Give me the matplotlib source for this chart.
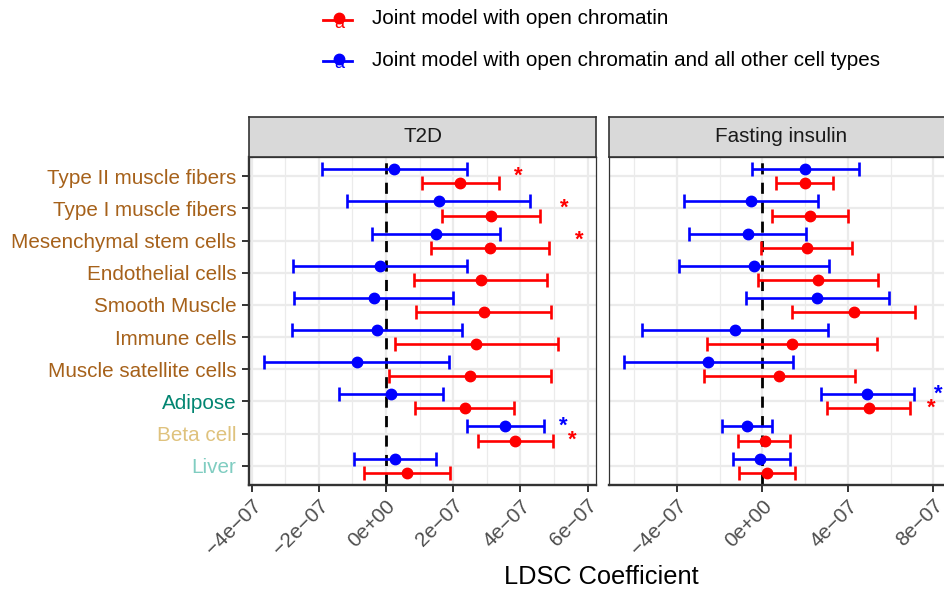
import matplotlib.pyplot as plt
import numpy as np

plt.rcParams['font.family'] = ['Liberation Sans', 'DejaVu Sans']

# rows from bottom to top
cell_types = ['Liver', 'Beta cell', 'Adipose', 'Muscle satellite cells', 'Immune cells',
              'Smooth Muscle', 'Endothelial cells', 'Mesenchymal stem cells',
              'Type I muscle fibers', 'Type II muscle fibers']
label_colors = ['#80CDC1', '#DFC27D', '#018571'] + ['#A6611A'] * 7

traits = ['T2D', 'Fasting insulin']
models = ['Joint model with open chromatin',
          'Joint model with open chromatin and all other cell types']
model_colors = ['#FF0000', '#0000FF']

scale = 1e-7  # values below are in units of 1e-07

# T2D, joint model (red)
t2d_red_est = [0.63, 3.85, 2.36, 2.49, 2.69, 2.91, 2.82, 3.08, 3.13, 2.21]
t2d_red_lo = [-0.65, 2.75, 0.87, 0.08, 0.27, 0.89, 0.84, 1.33, 1.68, 1.06]
t2d_red_hi = [1.89, 4.98, 3.81, 4.91, 5.11, 4.91, 4.80, 4.84, 4.57, 3.35]
# T2D, joint model + other cell types (blue)
t2d_blue_est = [0.27, 3.55, 0.16, -0.87, -0.28, -0.37, -0.19, 1.50, 1.57, 0.23]
t2d_blue_lo = [-0.94, 2.40, -1.41, -3.62, -2.81, -2.73, -2.78, -0.41, -1.16, -1.90]
t2d_blue_hi = [1.50, 4.70, 1.70, 1.88, 2.27, 1.98, 2.40, 3.38, 4.30, 2.40]
# Fasting insulin, red
fi_red_est = [0.22, 0.12, 4.97, 0.79, 1.37, 4.27, 2.60, 2.07, 2.21, 1.98]
fi_red_lo = [-1.07, -1.14, 3.02, -2.72, -2.57, 1.39, -0.20, -0.06, 0.47, 0.63]
fi_red_hi = [1.54, 1.29, 6.90, 4.32, 5.35, 7.12, 5.39, 4.19, 3.99, 3.32]
# Fasting insulin, blue
fi_blue_est = [-0.09, -0.71, 4.89, -2.54, -1.29, 2.57, -0.39, -0.68, -0.53, 2.01]
fi_blue_lo = [-1.36, -1.87, 2.73, -6.48, -5.64, -0.78, -3.89, -3.41, -3.64, -0.50]
fi_blue_hi = [1.29, 0.47, 7.07, 1.43, 3.08, 5.93, 3.13, 2.06, 2.59, 4.50]

# significance stars: trait, cell type, model index, x position
star_trait = ['T2D', 'T2D', 'T2D', 'T2D', 'T2D', 'Fasting insulin', 'Fasting insulin']
star_cell = ['Type II muscle fibers', 'Type I muscle fibers', 'Mesenchymal stem cells',
             'Beta cell', 'Beta cell', 'Adipose', 'Adipose']
star_model = [0, 0, 0, 1, 0, 1, 0]
star_x = [3.95, 5.32, 5.75, 5.29, 5.55, 8.22, 7.91]

xticks = {'T2D': [-4, -2, 0, 2, 4, 6], 'Fasting insulin': [-4, 0, 4, 8]}
xminor = {'T2D': [-3, -1, 1, 3, 5], 'Fasting insulin': [-6, -2, 2, 6]}
xlims = {'T2D': (-4.08, 6.25), 'Fasting insulin': (-7.18, 8.96)}

data = {
    'T2D': [(t2d_red_est, t2d_red_lo, t2d_red_hi), (t2d_blue_est, t2d_blue_lo, t2d_blue_hi)],
    'Fasting insulin': [(fi_red_est, fi_red_lo, fi_red_hi), (fi_blue_est, fi_blue_lo, fi_blue_hi)],
}


def fmt_tick(v):
    if v == 0:
        return '0e+00'
    s = '%de-07' % abs(v)
    s = s.replace('-', '\u2212')
    return ('\u2212' if v < 0 else '') + s


W, H = 945, 589
fig = plt.figure(figsize=(W / 100, H / 100), dpi=100)

panels = [(249, 596), (608.7, 954)]
p_top, p_bot, s_top = 157, 485, 117
dodge = 0.22
rows = np.arange(len(cell_types))
dark = '#333333'

for k, (trait, (x0, x1)) in enumerate(zip(traits, panels)):
    ax = fig.add_axes([x0 / W, (H - p_bot) / H, (x1 - x0) / W, (p_bot - p_top) / H])
    ax.set_xlim(xlims[trait][0] * scale, xlims[trait][1] * scale)
    ax.set_ylim(-0.6, len(cell_types) - 0.4)
    ax.set_xticks([t * scale for t in xticks[trait]])
    ax.set_xticks([t * scale for t in xminor[trait]], minor=True)
    ax.set_xticklabels([fmt_tick(t) for t in xticks[trait]], rotation=45, ha='right', va='top',
                       rotation_mode='anchor', fontsize=14.8, color='#4D4D4D')
    ax.tick_params(axis='x', which='major', length=5, width=1.4, color=dark, pad=3)
    ax.tick_params(axis='x', which='minor', length=0)
    ax.set_yticks(rows)
    if k == 0:
        ax.set_yticklabels(cell_types, fontsize=14.9)
        for lab, c in zip(ax.get_yticklabels(), label_colors):
            lab.set_color(c)
        ax.tick_params(axis='y', length=5, width=1.4, color=dark, pad=4)
    else:
        ax.set_yticklabels([])
        ax.tick_params(axis='y', length=0)
    ax.grid(True, which='major', color='#EBEBEB', lw=1.6)
    ax.grid(True, which='minor', axis='x', color='#EBEBEB', lw=0.9)
    ax.set_axisbelow(True)
    for side in ['top', 'right']:
        ax.spines[side].set_color(dark)
        ax.spines[side].set_linewidth(0.9)
    ax.spines['bottom'].set_color(dark)
    ax.spines['bottom'].set_linewidth(1.7)
    ax.spines['left'].set_color(dark)
    ax.spines['left'].set_linewidth(1.7 if k == 0 else 0.9)

    ax.axvline(0, color='black', lw=2.0, ls=(0, (4, 3)), zorder=1.5)

    for m, (est, lo, hi) in enumerate(data[trait]):
        est = np.array(est) * scale
        lo = np.array(lo) * scale
        hi = np.array(hi) * scale
        y = rows + (-dodge if m == 0 else dodge)
        ax.errorbar(est, y, xerr=[est - lo, hi - est], fmt='o', color=model_colors[m],
                    ms=7.5, capsize=5.3, elinewidth=1.9, capthick=1.9, zorder=3)

    for t, c, m, sx in zip(star_trait, star_cell, star_model, star_x):
        if t != trait:
            continue
        i = cell_types.index(c)
        both = sum(1 for t2, c2 in zip(star_trait, star_cell) if t2 == t and c2 == c) > 1
        y = i + ((-dodge if m == 0 else dodge) if both else 0)
        ax.text(sx * scale, y, '*', color=model_colors[m], fontsize=16, ha='center',
                va='center', fontweight='bold', clip_on=False)

    # strip
    sax = fig.add_axes([x0 / W, (H - p_top) / H, (x1 - x0) / W, (p_top - s_top) / H])
    sax.set_facecolor('#D9D9D9')
    sax.set_xticks([])
    sax.set_yticks([])
    for sp in sax.spines.values():
        sp.set_color(dark)
        sp.set_linewidth(1.2)
    sax.text(0.5, 0.5, trait, ha='center', va='center', fontsize=14.9, color='#1A1A1A',
             transform=sax.transAxes)

fig.text(601 / W, 1 - 577 / H, 'LDSC Coefficient', ha='center', va='center', fontsize=18.3)

# legend
lax = fig.add_axes([0, 0, 1, 1])
lax.set_xlim(0, W)
lax.set_ylim(H, 0)
lax.axis('off')
for m, ly in enumerate([19, 60]):
    col = model_colors[m]
    lax.plot([323, 352], [ly + 1, ly + 1], color=col, lw=2.0)
    lax.plot([339], [ly - 1], 'o', color=col, ms=7.5)
    lax.text(339, ly + 4, 'a', color=col, fontsize=13, ha='center', va='center')
    lax.text(372, ly, models[m], fontsize=14.9, ha='left', va='center', color='black')

fig.savefig('out.png', dpi=100)
